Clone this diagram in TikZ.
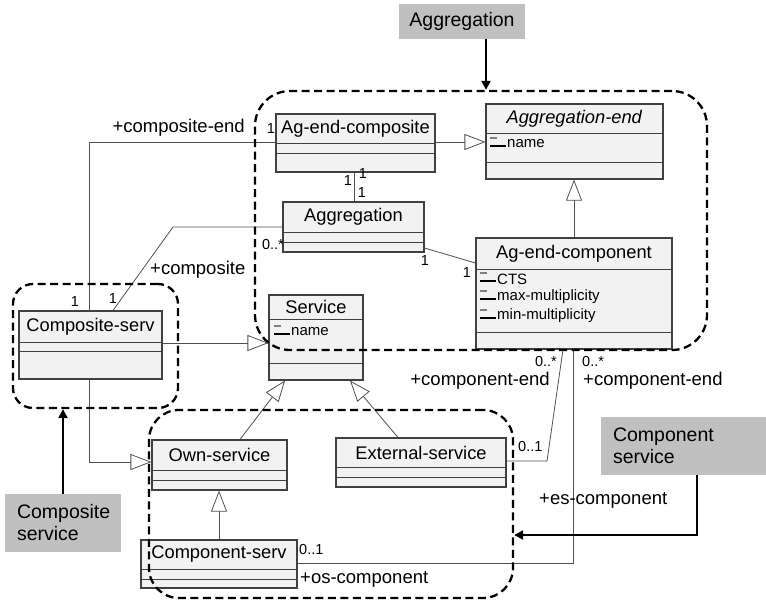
\documentclass[tikz,border=0pt]{standalone}
\usepackage{fontspec}
\setmainfont{Liberation Sans}
\usetikzlibrary{arrows.meta}

\definecolor{boxfill}{HTML}{F2F2F2}
\definecolor{boxline}{HTML}{404040}
\definecolor{wire}{HTML}{505050}
\definecolor{notefill}{HTML}{C0C0C0}

\tikzset{
  classframe/.style={draw=boxline, fill=boxfill, line width=1.1pt, rectangle, inner sep=0pt},
  divider/.style={draw=boxline, line width=0.9pt},
  classname/.style={font=\fontsize{18.3}{21}\selectfont, inner sep=0pt},
  attr/.style={font=\fontsize{15}{17}\selectfont, anchor=west, inner sep=0pt},
  role/.style={font=\fontsize{18.5}{21}\selectfont, inner sep=0pt},
  mult/.style={font=\fontsize{14.5}{16}\selectfont, inner sep=0pt},
  assoc/.style={draw=wire, line width=0.8pt},
  gen/.style={assoc, -{Triangle[open, length=21pt, width=16pt]}},
  region/.style={draw=black, dash pattern=on 8pt off 4.5pt, line width=2.3pt,
                 rounded corners=#1, rectangle, inner sep=0pt},
  note/.style={fill=notefill, inner sep=0pt, font=\fontsize{19.5}{22}\selectfont, align=left},
  pointer/.style={draw=black, line width=2.2pt, -{Triangle[length=9pt, width=9pt]}},
}

% UML class: name, left, top, right, bottom, first divider, second divider, title
\newcommand\umlclass[8]{%
  \node[classframe, minimum width={(#4-#2)*1pt}, minimum height={(#5-#3)*1pt}]
    (#1) at ({(#2+#4)/2},{(#3+#5)/2}) {};
  \draw[divider] (#2,#6) -- (#4,#6) (#2,#7) -- (#4,#7);
  \node[classname] (#1-title) at ({(#2+#4)/2},{(#3+#6)/2}) {#8};
}

% attribute line: name, icon x, centre y, text
\newcommand\umlattr[4]{%
  \fill[gray] (#2,{#3-7}) rectangle ({#2+7},{#3-4.8});
  \draw[line width=2pt] (#2,{#3+1.5}) -- ({#2+16},{#3+1.5});
  \node[attr] (#1) at ({#2+17},#3) {#4};
}

\begin{document}
\begin{tikzpicture}[x=1pt, y=-1pt]
\useasboundingbox (0,0) rectangle (766,602);

% classes
\umlclass{agc}{276}{114}{435}{172}{143}{153}{Ag-end-composite}
\umlclass{agg}{283}{202}{424}{252}{232}{242}{Aggregation}
\umlclass{age}{486}{104}{663}{179}{133}{162}{\textit{Aggregation-end}}
\umlclass{agcp}{476}{238}{672}{349}{269}{332}{Ag-end-component}
\umlclass{srv}{269}{295}{363}{380}{319}{363}{Service}
\umlclass{cs}{19}{311}{162}{379}{342}{351}{Composite-serv}
\umlclass{own}{152}{440}{287}{490}{470}{480}{Own-service}
\umlclass{ext}{336}{438}{506}{487}{467}{477}{External-service}
\umlclass{comp}{141}{540}{297}{588}{569}{579}{Component-serv}

% attributes
\umlattr{age-name}{490}{144}{name}
\umlattr{srv-name}{274}{332}{name}
\umlattr{agcp-cts}{480}{279}{CTS}
\umlattr{agcp-max}{480}{297}{max-multiplicity}
\umlattr{agcp-min}{480}{316}{min-multiplicity}

% generalizations
\draw[gen] (agc.east |- 0,142) -- (age.west |- 0,142);
\draw[gen] (agcp.north -| 574,0) -- (age.south -| 574,0);
\draw[gen] (cs.east |- 0,343) -- (srv.west |- 0,343);
\draw[gen] (cs.south -| 89,0) |- (own.west |- 0,462);
\draw[gen] (own.north -| 240,0) -- (srv.south -| 285,0);
\draw[gen] (ext.north -| 398,0) -- (srv.south -| 350,0);
\draw[gen] (comp.north -| 219,0) -- (own.south -| 219,0);

% associations
\coordinate (compositeBend) at (173,227);
\coordinate (extBend) at (547,461);
\draw[assoc] (agc.south -| 354,0) -- (agg.north -| 354,0);
\draw[assoc] (agg.east |- 0,248) -- (agcp.west |- 0,263);
\draw[assoc] (cs.north -| 89,0) |- (agc.west |- 0,142);
\draw[assoc] (cs.north -| 113,0) -- (compositeBend) -- (agg.west |- 0,227);
\draw[assoc] (ext.east |- 0,461) -- (extBend) -- (agcp.south -| 563,0);
\draw[assoc] (comp.east |- 0,563) -| (agcp.south -| 573,0);

% role names and multiplicities
\node[role, anchor=east] (rCompEnd) at (245,128) {+composite-end};
\node[mult] (mAgc) at (271,129) {1};
\node[mult] (mCsEnd) at (75,302) {1};
\node[mult] (mCsComp) at (113,299) {1};
\node[role, anchor=west] (rComposite) at (150,270) {+composite};
\node[mult, anchor=east] (mAggMany) at (284,245) {0..*};
\node[mult] (mAgcA) at (348,181) {1};
\node[mult] (mAgcB) at (363,174) {1};
\node[mult] (mAggA) at (362,193) {1};
\node[mult] (mAggB) at (425,261) {1};
\node[mult] (mAgcpA) at (467,273) {1};
\node[mult, anchor=west] (mExtOne) at (518,447) {0..1};
\node[mult, anchor=east] (mExtMany) at (557,362) {0..*};
\node[role, anchor=east] (rCompEndA) at (550,381) {+component-end};
\node[mult, anchor=west] (mCompMany) at (582,362) {0..*};
\node[role, anchor=west] (rCompEndB) at (583,381) {+component-end};
\node[role, anchor=west] (rEs) at (539,500) {+es-component};
\node[mult, anchor=west] (mCompOne) at (299,550) {0..1};
\node[role, anchor=west] (rOs) at (300,579) {+os-component};

% grouping regions
\node[region=35pt, minimum width=452pt, minimum height=259pt] (aggRegion) at (481,220.5) {};
\node[region=20pt, minimum width=165pt, minimum height=124pt] (csRegion) at (95.5,346) {};
\node[region=30pt, minimum width=364pt, minimum height=188pt] (compRegion) at (331,504) {};

% notes
\node[note, minimum width=126pt, minimum height=35pt] (aggNote) at (462,21.5) {Aggregation};
\node[note, minimum width=116pt, minimum height=58pt, text width=92pt] (csNote) at (63,523) {Composite\\service};
\node[note, minimum width=165pt, minimum height=58pt, text width=141pt] (compNote) at (683.5,446) {Component\\service};

\draw[pointer] (aggNote.south -| 486,0) -- (aggRegion.north -| 486,0);
\draw[pointer] (csNote.north -| 63,0) -- (csRegion.south -| 63,0);
\draw[pointer] (compNote.south -| 697,0) |- (compRegion.east |- 0,535);
\end{tikzpicture}
\end{document}
